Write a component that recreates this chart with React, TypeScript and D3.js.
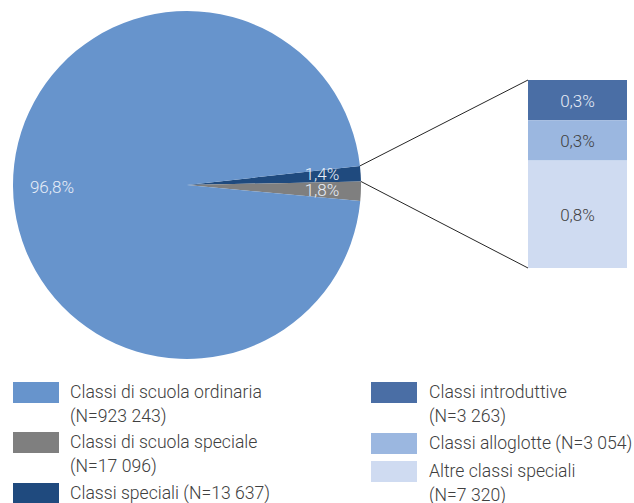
import React, { useEffect, useRef } from "react";
import * as d3 from "d3";

const pieNames = ["Classi speciali", "Classi di scuola speciale", "Classi di scuola ordinaria"];
const pieValues = [13637, 17096, 923243];
const pieLabels = ["1,4%", "1,8%", "96,8%"];
const pieColors = ["#1f4a7e", "#7f7f7f", "#6794cc"];

const barNames = ["Classi introduttive", "Classi alloglotte", "Altre classi speciali"];
const barPct = [0.3, 0.3, 0.8];
const barLabels = ["0,3%", "0,3%", "0,8%"];
const barColors = ["#4a6ea5", "#9bb7e0", "#cfdbf1"];
const barTextColors = ["#e6ecf6", "#404040", "#404040"];

const legendLeft = [
  { color: "#6794cc", lines: ["Classi di scuola ordinaria", "(N=923 243)"] },
  { color: "#7f7f7f", lines: ["Classi di scuola speciale", "(N=17 096)"] },
  { color: "#1f4a7e", lines: ["Classi speciali (N=13 637)"] },
];
const legendRight = [
  { color: "#4a6ea5", lines: ["Classi introduttive", "(N=3 263)"] },
  { color: "#9bb7e0", lines: ["Classi alloglotte (N=3 054)"] },
  { color: "#cfdbf1", lines: ["Altre classi speciali", "(N=7 320)"] },
];

export default function App() {
  const ref = useRef<SVGSVGElement>(null);
  useEffect(() => {
    const svg = d3.select(ref.current);
    svg.selectAll("*").remove();
    const cx = 187, cy = 185, r = 174;
    const start = Math.PI / 2 - 0.11;
    const pie = d3.pie<number>().sort(null).startAngle(start).endAngle(start + 2 * Math.PI);
    const arcs = pie(pieValues);
    const arc = d3.arc<d3.PieArcDatum<number>>().innerRadius(0).outerRadius(r);
    const g = svg.append("g").attr("transform", `translate(${cx},${cy})`);
    g.selectAll("path").data(arcs).join("path").attr("d", arc as any).attr("fill", (_, i) => pieColors[i]);

    const font = "Roboto, sans-serif";
    // pie labels
    const labelPos: [number, number][] = [[135, -5], [135, 11], [-135, 8]];
    g.selectAll("text.pl").data(arcs).join("text").attr("class", "pl")
      .attr("x", (_, i) => labelPos[i][0]).attr("y", (_, i) => labelPos[i][1])
      .attr("text-anchor", "middle").attr("font-family", font).attr("font-weight", 300)
      .attr("font-size", 17).attr("fill", "#e8eef8").text((_, i) => pieLabels[i]);

    // bar
    const bx0 = 528, bx1 = 627, by0 = 80, by1 = 268;
    const total = d3.sum(barPct);
    const y = d3.scaleLinear().domain([0, total]).range([by0, by1]);
    let acc = 0;
    const segs = barPct.map((v) => { const s = { y0: acc, y1: acc + v }; acc += v; return s; });
    svg.selectAll("rect.seg").data(segs).join("rect").attr("class", "seg")
      .attr("x", bx0).attr("width", bx1 - bx0)
      .attr("y", (d) => y(d.y0)).attr("height", (d) => y(d.y1) - y(d.y0))
      .attr("fill", (_, i) => barColors[i]);
    svg.selectAll("text.sl").data(segs).join("text").attr("class", "sl")
      .attr("x", (bx0 + bx1) / 2).attr("y", (d) => (y(d.y0) + y(d.y1)) / 2 + 6.5)
      .attr("text-anchor", "middle").attr("font-family", font).attr("font-weight", 300)
      .attr("font-size", 17).attr("fill", (_, i) => barTextColors[i]).text((_, i) => barLabels[i]);

    // connectors from the dark blue slice edges
    const a0 = arcs[0].startAngle, a1 = arcs[0].endAngle;
    const p0 = [cx + r * Math.sin(a0), cy - r * Math.cos(a0)];
    const p1 = [cx + r * Math.sin(a1), cy - r * Math.cos(a1)];
    svg.append("line").attr("x1", p0[0]).attr("y1", p0[1]).attr("x2", bx0).attr("y2", by0)
      .attr("stroke", "#262626").attr("stroke-width", 1);
    svg.append("line").attr("x1", p1[0]).attr("y1", p1[1]).attr("x2", bx0).attr("y2", by1)
      .attr("stroke", "#262626").attr("stroke-width", 1);

    // legend
    const drawLegend = (items: typeof legendLeft, sx: number, tx: number, tops: number[]) => {
      items.forEach((it, i) => {
        svg.append("rect").attr("x", sx).attr("y", tops[i]).attr("width", 46).attr("height", 21).attr("fill", it.color);
        it.lines.forEach((ln, j) => {
          svg.append("text").attr("x", tx).attr("y", tops[i] + 16 + j * 24)
            .attr("font-family", font).attr("font-weight", 300).attr("font-size", 17.6)
            .attr("fill", "#404040").text(ln);
        });
      });
    };
    drawLegend(legendLeft, 13, 70, [382, 432, 483]);
    drawLegend(legendRight, 371, 429, [382, 433, 461]);
  }, []);
  return (
    <svg ref={ref} width={634} height={503} style={{ position: "absolute", left: 0, top: 0, background: "#fff" }} />
  );
}
